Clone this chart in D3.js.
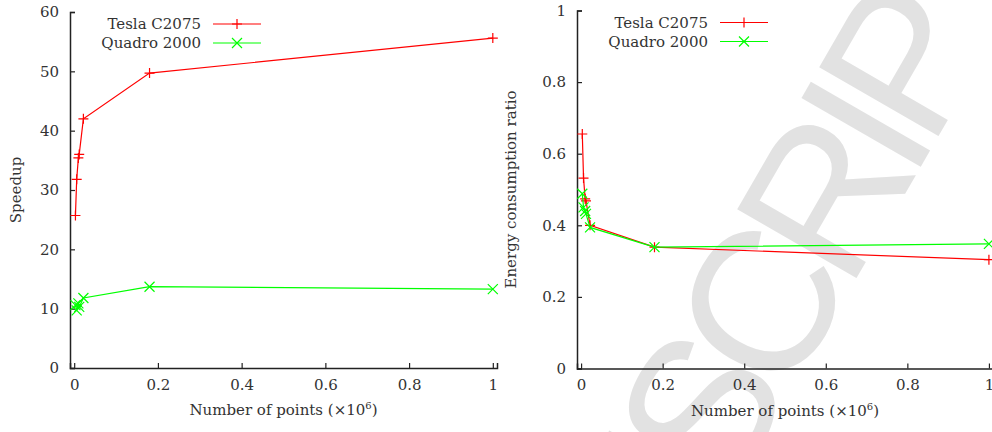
<!DOCTYPE html>
<html>
<head>
<meta charset="utf-8">
<style>
  body { margin: 0; background: white; }
  svg text { font-family: "DejaVu Serif", "Liberation Serif", serif; fill: #333; }
</style>
<script src="https://cdn.jsdelivr.net/npm/d3@7"></script>
</head>
<body>
<div id="chart"></div>
<script>
// number of points (x 10^6)
var points = [0.003, 0.006, 0.010, 0.012, 0.022, 0.18, 1.0];

// speedup
var teslaSpeedup  = [25.7, 31.8, 35.4, 36.0, 42.0, 49.7, 55.6];
var quadroSpeedup = [10.6, 9.7, 10.9, 10.3, 11.8, 13.7, 13.3];

// energy consumption ratio
var teslaEnergy  = [0.655, 0.532, 0.474, 0.468, 0.400, 0.339, 0.304];
var quadroEnergy = [0.488, 0.450, 0.440, 0.432, 0.394, 0.339, 0.348];

var seriesNames = ['Tesla C2075', 'Quadro 2000'];
var seriesColors = ['#ff0000', '#00ff00'];
var xTicks = [0, 0.2, 0.4, 0.6, 0.8, 1];
var speedupTicks = [0, 10, 20, 30, 40, 50, 60];
var energyTicks = [0, 0.2, 0.4, 0.6, 0.8, 1];

var FONT = '"DejaVu Serif", "Liberation Serif", serif';

var svg = d3.select('#chart').append('svg')
    .attr('width', 992)
    .attr('height', 432);

// watermark
svg.append('text')
    .attr('transform', 'translate(1040,-40) rotate(-60)')
    .attr('text-anchor', 'end')
    .style('font-family', '"Liberation Sans", Arial, sans-serif')
    .style('font-size', '200px')
    .style('letter-spacing', '-18px')
    .style('fill', '#e2e2e2')
    .text('ACCEPTED MANUSCRIPT');

function panel(opt) {
    var g = svg.append('g');
    var x = d3.scaleLinear().domain([-0.01, 1.01]).range([opt.left, opt.right]);
    var y = d3.scaleLinear().domain([0, opt.ymax]).range([opt.bottom, opt.top]);

    var xAxis = d3.axisBottom(x).tickValues(xTicks).tickSize(-5).tickPadding(11)
        .tickFormat(d3.format('~g'));
    var yAxis = d3.axisLeft(y).tickValues(opt.ticks).tickSize(-5).tickPadding(11)
        .tickFormat(d3.format('~g'));

    g.append('g').attr('transform', 'translate(0,' + opt.bottom + ')').call(xAxis)
        .attr('font-family', FONT);
    g.append('g').attr('transform', 'translate(' + opt.left + ',0)').call(yAxis)
        .attr('font-family', FONT);
    g.selectAll('.domain').attr('stroke', '#222').attr('stroke-width', 1.5);
    g.selectAll('.tick line').attr('stroke', '#222').attr('stroke-width', 1.2);
    g.selectAll('.tick text').style('font-size', '15px').style('fill', '#333')
        .style('font-family', FONT);

    // axis titles
    var xt = g.append('text')
        .attr('x', (x(0) + x(1)) / 2).attr('y', opt.bottom + 47)
        .attr('text-anchor', 'middle')
        .style('font-family', FONT)
        .style('font-size', '15px');
    xt.append('tspan').text('Number of points (\u00d710');
    xt.append('tspan').attr('dy', -6).style('font-size', '10px').text('6');
    xt.append('tspan').attr('dy', 6).text(')');

    g.append('text')
        .attr('transform', 'translate(' + opt.ylabelX + ',' + (opt.top + opt.bottom) / 2 + ') rotate(-90)')
        .attr('text-anchor', 'middle')
        .style('font-family', FONT)
        .style('font-size', '15px')
        .text(opt.ylabel);

    var line = d3.line().x(function(d) { return x(d[0]); }).y(function(d) { return y(d[1]); });

    opt.series.forEach(function(vals, i) {
        var data = points.map(function(p, j) { return [p, vals[j]]; });
        g.append('path').datum(data)
            .attr('d', line)
            .attr('fill', 'none')
            .attr('stroke', seriesColors[i])
            .attr('stroke-width', 1.2);
        g.selectAll('.m' + i).data(data).enter().append('path')
            .attr('transform', function(d) { return 'translate(' + x(d[0]) + ',' + y(d[1]) + ')'; })
            .attr('d', i === 0 ? 'M-5,0H5M0,-5V5' : 'M-5,-5L5,5M-5,5L5,-5')
            .attr('stroke', seriesColors[i])
            .attr('stroke-width', 1.2);

        // legend row
        var ly = opt.top + 12 + i * 19;
        g.append('text')
            .attr('x', opt.legendX).attr('y', ly + 5)
            .attr('text-anchor', 'end')
            .style('font-family', FONT)
            .style('font-size', '15px')
            .text(seriesNames[i]);
        g.append('line')
            .attr('x1', opt.legendX + 12).attr('x2', opt.legendX + 60)
            .attr('y1', ly).attr('y2', ly)
            .attr('stroke', seriesColors[i]).attr('stroke-width', 1.2);
        g.append('path')
            .attr('transform', 'translate(' + (opt.legendX + 36) + ',' + ly + ')')
            .attr('d', i === 0 ? 'M-5,0H5M0,-5V5' : 'M-5,-5L5,5M-5,5L5,-5')
            .attr('stroke', seriesColors[i])
            .attr('stroke-width', 1.2);
    });
}

panel({
    left: 70, right: 497, top: 12, bottom: 368,
    ymax: 60, ticks: speedupTicks,
    ylabel: 'Speedup', ylabelX: 21,
    legendX: 201,
    series: [teslaSpeedup, quadroSpeedup]
});

panel({
    left: 577, right: 993, top: 10.5, bottom: 368.5,
    ymax: 1, ticks: energyTicks,
    ylabel: 'Energy consumption ratio', ylabelX: 516,
    legendX: 708,
    series: [teslaEnergy, quadroEnergy]
});
</script>
</body>
</html>
